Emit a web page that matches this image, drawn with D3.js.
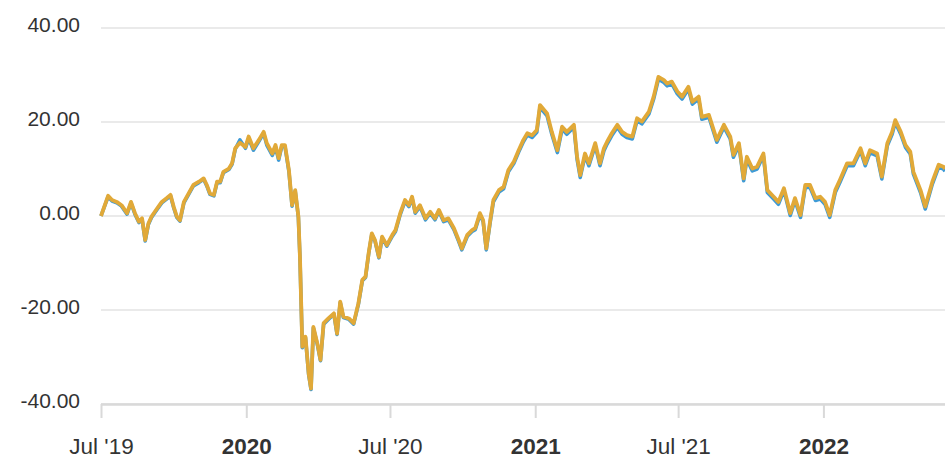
<!DOCTYPE html>
<html>
<head>
<meta charset="utf-8">
<script src="https://cdn.jsdelivr.net/npm/d3@7"></script>
<style>
	html, body { margin: 0; padding: 0; background: #fff; }
	svg { display: block; font-family: "Liberation Sans", Arial, sans-serif; }
	.axis .domain { display: none; }
	.y-axis text { font-size: 21px; fill: #333; }
	.x-axis text { font-size: 22.5px; fill: #333; }
	.x-axis line { stroke: #d9d9d9; stroke-width: 2px; }
	.grid line { stroke: #e3e3e3; stroke-width: 1.5px; }
</style>
</head>
<body>
<svg id="chart" width="945" height="461"></svg>
<script>
(function (d3) {
	"use strict";

	/***** Data *****/

	// observation dates
	var dates = [
		"2019-07-01","2019-07-10","2019-07-15","2019-07-21","2019-07-27","2019-08-03","2019-08-08","2019-08-13","2019-08-18","2019-08-22",
		"2019-08-26","2019-08-30","2019-09-03","2019-09-10","2019-09-16","2019-09-22","2019-09-27","2019-10-01","2019-10-05","2019-10-09",
		"2019-10-14","2019-10-20","2019-10-26","2019-11-02","2019-11-08","2019-11-12","2019-11-16","2019-11-21","2019-11-25","2019-11-29",
		"2019-12-03","2019-12-10","2019-12-14","2019-12-18","2019-12-24","2019-12-31","2020-01-04","2020-01-10","2020-01-17","2020-01-23",
		"2020-01-27","2020-02-03","2020-02-07","2020-02-11","2020-02-15","2020-02-19","2020-02-24","2020-02-28","2020-03-03","2020-03-07",
		"2020-03-09","2020-03-12","2020-03-16","2020-03-20","2020-03-23","2020-03-26","2020-03-31","2020-04-04","2020-04-08","2020-04-14",
		"2020-04-21","2020-04-25","2020-04-29","2020-05-03","2020-05-10","2020-05-16","2020-05-22","2020-05-27","2020-05-31","2020-06-04",
		"2020-06-08","2020-06-12","2020-06-17","2020-06-21","2020-06-27","2020-07-04","2020-07-08","2020-07-14","2020-07-20","2020-07-25",
		"2020-07-29","2020-08-02","2020-08-08","2020-08-15","2020-08-21","2020-08-27","2020-09-01","2020-09-07","2020-09-13","2020-09-20",
		"2020-09-26","2020-09-30","2020-10-07","2020-10-13","2020-10-17","2020-10-23","2020-10-27","2020-10-31","2020-11-05","2020-11-09",
		"2020-11-16","2020-11-22","2020-11-28","2020-12-05","2020-12-11","2020-12-17","2020-12-22","2020-12-28","2021-01-03","2021-01-07",
		"2021-01-16","2021-01-22","2021-01-29","2021-02-04","2021-02-10","2021-02-19","2021-02-23","2021-02-27","2021-03-05","2021-03-10",
		"2021-03-18","2021-03-24","2021-03-29","2021-04-02","2021-04-08","2021-04-15","2021-04-21","2021-04-27","2021-05-04","2021-05-10",
		"2021-05-16","2021-05-25","2021-05-31","2021-06-06","2021-06-13","2021-06-17","2021-06-23","2021-06-30","2021-07-06","2021-07-14",
		"2021-07-19","2021-07-27","2021-07-31","2021-08-09","2021-08-19","2021-08-28","2021-09-05","2021-09-09","2021-09-16","2021-09-22",
		"2021-09-26","2021-10-03","2021-10-09","2021-10-17","2021-10-22","2021-10-30","2021-11-05","2021-11-12","2021-11-20","2021-11-26",
		"2021-12-03","2021-12-09","2021-12-15","2021-12-22","2021-12-28","2022-01-03","2022-01-09","2022-01-16","2022-01-22","2022-01-31",
		"2022-02-08","2022-02-17","2022-02-23","2022-03-01","2022-03-10","2022-03-16","2022-03-23","2022-03-29","2022-04-02","2022-04-09",
		"2022-04-15","2022-04-21","2022-04-25","2022-05-04","2022-05-10","2022-05-19","2022-05-27","2022-06-02","2022-06-04"
	];

	// gold series (drawn on top)
	var fundValues = [
		0.0, 4.3, 3.4, 3.0, 2.3, 0.6, 3.0, 0.6, -1.2, -0.5,
		-5.1, -1.6, -0.1, 1.6, 3.0, 3.8, 4.5, 2.0, -0.1, -0.9,
		3.0, 4.8, 6.6, 7.3, 8.0, 6.6, 4.8, 4.5, 7.3, 7.3,
		9.4, 10.1, 11.2, 14.4, 15.6, 14.7, 16.9, 14.4, 16.2, 17.9,
		15.5, 13.3, 15.1, 12.3, 15.1, 15.1, 9.8, 2.3, 5.5, -0.1,
		-8.7, -27.8, -25.7, -33.5, -36.7, -23.6, -27.1, -30.6, -22.8, -21.8,
		-20.7, -25.0, -18.2, -21.4, -21.8, -22.8, -18.6, -13.6, -12.9, -7.9,
		-3.7, -5.1, -8.7, -4.4, -6.2, -4.0, -3.0, 0.6, 3.4, 2.3,
		4.1, 0.9, 2.3, -0.5, 0.9, -0.5, 1.3, -0.9, -0.5, -2.6,
		-5.1, -6.9, -4.0, -3.0, -2.6, 0.6, -0.9, -6.9, -0.9, 3.4,
		5.5, 6.2, 9.8, 11.6, 14.0, 16.2, 17.6, 17.2, 18.3, 23.6,
		21.8, 17.9, 14.0, 19.0, 17.9, 19.4, 12.6, 8.7, 13.3, 11.2,
		15.5, 11.2, 14.4, 15.8, 17.6, 19.4, 17.9, 17.2, 16.9, 20.8,
		20.1, 22.2, 25.4, 29.6, 28.9, 28.2, 28.6, 26.5, 25.4, 27.5,
		24.3, 25.4, 21.1, 21.5, 16.2, 19.4, 16.9, 13.0, 15.5, 8.0,
		12.6, 10.1, 10.5, 13.3, 5.5, 4.1, 3.0, 5.9, 0.6, 3.8,
		0.2, 6.6, 6.6, 3.8, 4.1, 3.0, 0.2, 5.5, 7.7, 11.2,
		11.2, 14.4, 11.2, 14.0, 13.3, 8.4, 15.5, 17.9, 20.4, 17.9,
		15.1, 13.7, 9.4, 5.5, 2.0, 7.3, 10.9, 10.5, 10.0
	];

	// blue series (drawn underneath)
	var benchmarkValues = [
		0.0, 4.1, 3.2, 2.8, 2.1, 0.4, 2.8, 0.4, -1.4, -0.7,
		-5.3, -1.8, -0.3, 1.4, 2.8, 3.6, 4.3, 1.8, -0.3, -1.1,
		2.8, 4.6, 6.4, 7.1, 7.8, 6.4, 4.6, 4.3, 7.1, 7.1,
		9.2, 9.9, 11.0, 14.2, 16.2, 14.4, 16.5, 14.0, 15.9, 17.6,
		15.1, 12.9, 14.7, 11.9, 14.8, 14.8, 9.5, 2.1, 5.3, -0.3,
		-8.9, -28.0, -25.9, -33.7, -36.9, -23.8, -27.3, -30.8, -23.0, -22.0,
		-20.9, -25.2, -18.4, -21.6, -22.0, -23.0, -18.8, -13.8, -13.1, -8.1,
		-3.9, -5.3, -8.9, -4.6, -6.4, -4.3, -3.3, 0.3, 3.1, 2.0,
		3.8, 0.6, 2.0, -0.8, 0.6, -0.8, 1.0, -1.2, -0.8, -2.9,
		-5.4, -7.2, -4.3, -3.3, -2.9, 0.3, -1.2, -7.2, -1.3, 3.0,
		5.1, 5.8, 9.4, 11.2, 13.6, 15.8, 17.2, 16.7, 17.8, 23.1,
		21.3, 17.4, 13.5, 18.5, 17.4, 18.9, 12.1, 8.2, 12.8, 10.7,
		15.0, 10.7, 13.9, 15.3, 17.1, 18.9, 17.4, 16.7, 16.4, 20.3,
		19.6, 21.7, 24.9, 29.1, 28.4, 27.7, 28.1, 26.0, 24.9, 27.0,
		23.8, 24.9, 20.6, 21.0, 15.7, 18.9, 16.4, 12.5, 15.0, 7.5,
		12.1, 9.6, 10.0, 12.8, 5.0, 3.6, 2.5, 5.4, 0.1, 3.3,
		-0.3, 6.1, 6.1, 3.3, 3.6, 2.5, -0.3, 5.0, 7.2, 10.7,
		10.7, 13.9, 10.7, 13.5, 12.8, 7.9, 15.0, 17.4, 19.9, 17.4,
		14.6, 13.2, 8.9, 5.0, 1.5, 6.8, 10.4, 10.0, 9.5
	];

	// axis ticks
	var xTickDates = ["2019-07-01", "2020-01-01", "2020-07-01", "2021-01-01", "2021-07-01", "2022-01-01"];
	var xTickLabels = ["Jul '19", "2020", "Jul '20", "2021", "Jul '21", "2022"];
	var xTickBold = [false, true, false, true, false, true];
	var yTicks = [-40, -20, 0, 20, 40];
	var xDomain = ["2019-07-01", "2022-06-04"];

	/***** Constants *****/
	const plotLeft = 101;
	const plotRight = 945;
	const plotTop = 28;
	const plotBottom = 404;

	var dateparser = d3.timeParse("%Y-%m-%d");

	/***** Scales *****/
	var x = d3.scaleTime()
		.domain(xDomain.map(dateparser))
		.range([plotLeft, plotRight]);

	var y = d3.scaleLinear()
		.domain([-40, 40])
		.range([plotBottom, plotTop]);

	var svg = d3.select("#chart");

	/***** Grid lines *****/
	svg.append("g")
		.attr("class", "grid")
		.selectAll("line")
		.data(yTicks)
		.enter().append("line")
		.attr("x1", plotLeft)
		.attr("x2", plotRight)
		.attr("y1", function (d) { return y(d); })
		.attr("y2", function (d) { return y(d); });

	/***** Y axis *****/
	svg.append("g")
		.attr("class", "axis y-axis")
		.attr("transform", "translate(" + plotLeft + ",0)")
		.call(d3.axisLeft(y)
			.tickValues(yTicks)
			.tickSize(0)
			.tickPadding(21)
			.tickFormat(function (d) { return d.toFixed(2); }))
		.selectAll("text")
		.attr("dy", "0.18em");

	/***** X axis *****/
	var xAxisG = svg.append("g")
		.attr("class", "axis x-axis")
		.attr("transform", "translate(0," + plotBottom + ")")
		.call(d3.axisBottom(x)
			.tickValues(xTickDates.map(dateparser))
			.tickSize(14)
			.tickPadding(20)
			.tickFormat(function (d, i) { return xTickLabels[i]; }));

	xAxisG.selectAll(".tick text")
		.style("font-weight", function (d, i) { return xTickBold[i] ? "bold" : "normal"; });

	// bottom axis line
	svg.append("line")
		.attr("x1", plotLeft)
		.attr("x2", plotRight)
		.attr("y1", plotBottom + 0.5)
		.attr("y2", plotBottom + 0.5)
		.attr("stroke", "#d9d9d9")
		.attr("stroke-width", 2.5);

	/***** Lines *****/
	var parsedDates = dates.map(dateparser);

	function makeLine(values) {
		return d3.line()
			.x(function (d, i) { return x(parsedDates[i]); })
			.y(function (d) { return y(d); })(values);
	}

	svg.append("path")
		.attr("d", makeLine(benchmarkValues))
		.attr("fill", "none")
		.attr("stroke", "#3d9ad6")
		.attr("stroke-width", 3.6)
		.attr("stroke-linejoin", "round");

	svg.append("path")
		.attr("d", makeLine(fundValues))
		.attr("fill", "none")
		.attr("stroke", "#e1a938")
		.attr("stroke-width", 3.8)
		.attr("stroke-linejoin", "round");

})(d3);
</script>
</body>
</html>
